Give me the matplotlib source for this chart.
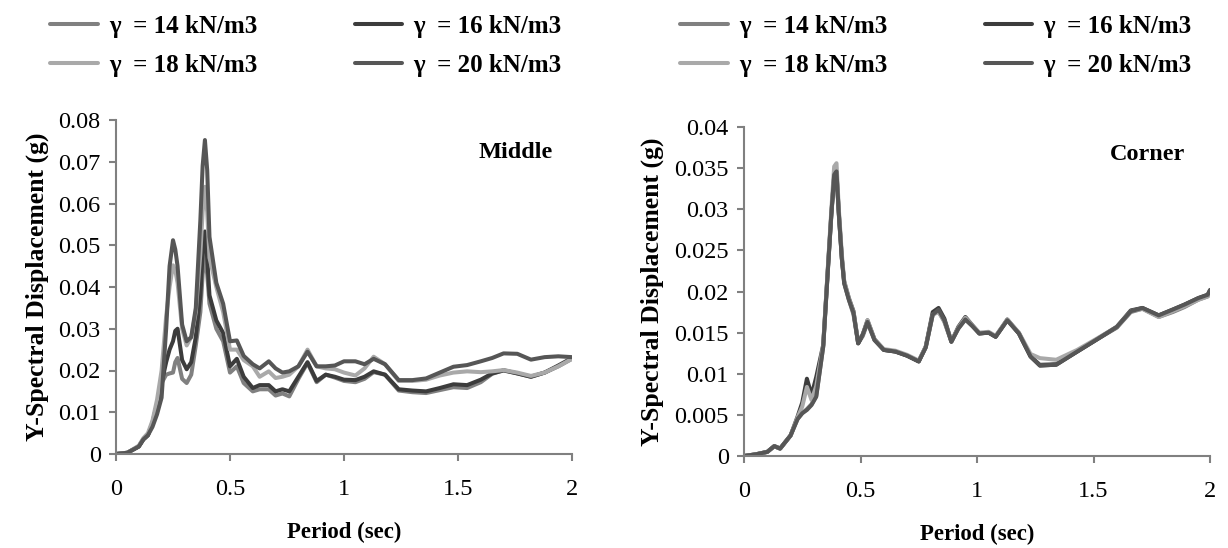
import matplotlib
matplotlib.use("Agg")
import matplotlib.pyplot as plt

# spectral displacement vs period, middle and corner points, four unit weights
labels = ["γ  = 14 kN/m3", "γ  = 16 kN/m3", "γ  = 18 kN/m3", "γ  = 20 kN/m3"]
colors = ["#808080", "#3c3c3c", "#a9a9a9", "#565656"]

period_mid = [0, 0.05, 0.1, 0.12, 0.14, 0.16, 0.18, 0.2, 0.22, 0.235,
              0.25, 0.26, 0.27, 0.29, 0.31, 0.33, 0.35, 0.37, 0.38, 0.39,
              0.40, 0.41, 0.44, 0.47, 0.5, 0.53, 0.56, 0.6, 0.63, 0.67,
              0.7, 0.73, 0.76, 0.8, 0.84, 0.88, 0.92, 0.96, 1.0, 1.05,
              1.09, 1.13, 1.18, 1.24, 1.3, 1.36, 1.42, 1.48, 1.54, 1.6,
              1.65, 1.7, 1.76, 1.82, 1.88, 1.94, 2.0]
mid_14 = [0, 0.0003, 0.0018, 0.0035, 0.0045, 0.0075, 0.012, 0.017, 0.019, 0.0193,
          0.0195, 0.022, 0.023, 0.018, 0.017, 0.019, 0.026, 0.034, 0.043, 0.048,
          0.043, 0.036, 0.030, 0.027, 0.0195, 0.021, 0.017, 0.015, 0.0155, 0.0155,
          0.014, 0.0145, 0.0138, 0.018, 0.0218, 0.0172, 0.019, 0.0183, 0.0175, 0.0172,
          0.018, 0.0196, 0.019, 0.0152, 0.0148, 0.0146, 0.0153, 0.016, 0.0158, 0.0172,
          0.0192, 0.0201, 0.0193, 0.0185, 0.0195, 0.021, 0.0228]
mid_16 = [0, 0.0003, 0.0018, 0.0035, 0.0045, 0.0075, 0.012, 0.017, 0.022, 0.025,
          0.027, 0.0295, 0.030, 0.0225, 0.0203, 0.022, 0.028, 0.038, 0.048, 0.0533,
          0.047, 0.038, 0.032, 0.029, 0.021, 0.0228, 0.0185, 0.0158, 0.0165, 0.0165,
          0.015, 0.0155, 0.015, 0.0185, 0.022, 0.0175, 0.019, 0.0185, 0.0178, 0.0177,
          0.0185, 0.0198, 0.019, 0.0155, 0.0152, 0.015, 0.0158, 0.0167, 0.0165, 0.0178,
          0.0193, 0.020, 0.0193, 0.0185, 0.0195, 0.0212, 0.023]
mid_18 = [0, 0.0003, 0.002, 0.0038, 0.005, 0.008, 0.013, 0.02, 0.033, 0.040,
          0.0452, 0.044, 0.041, 0.030, 0.026, 0.028, 0.034, 0.048, 0.058, 0.064,
          0.058, 0.047, 0.040, 0.034, 0.025, 0.025, 0.0225, 0.021, 0.0185, 0.0198,
          0.0182, 0.0185, 0.019, 0.021, 0.025, 0.021, 0.0205, 0.0203, 0.0195, 0.0188,
          0.0205, 0.0233, 0.0215, 0.0175, 0.0175, 0.0178, 0.0188, 0.0195, 0.0198, 0.0196,
          0.0198, 0.0201, 0.0195, 0.0187, 0.0195, 0.021, 0.0228]
mid_20 = [0, 0.0003, 0.0018, 0.0035, 0.0045, 0.0065, 0.0095, 0.0135, 0.030, 0.045,
          0.0512, 0.049, 0.045, 0.031, 0.027, 0.028, 0.035, 0.056, 0.069, 0.0752,
          0.068, 0.052, 0.041, 0.036, 0.027, 0.0272, 0.0235, 0.0215, 0.0205, 0.0222,
          0.0205, 0.0195, 0.0198, 0.021, 0.0245, 0.021, 0.021, 0.0212, 0.0222, 0.0222,
          0.0215, 0.0228, 0.0215, 0.0177, 0.0177, 0.0181, 0.0195, 0.0209, 0.0213, 0.0222,
          0.023, 0.0241, 0.024, 0.0226, 0.0232, 0.0234, 0.0232]

period_cor = [0, 0.05, 0.1, 0.13, 0.155, 0.2, 0.23, 0.25, 0.27, 0.29,
              0.31, 0.34, 0.36, 0.375, 0.387, 0.397, 0.407, 0.42, 0.43, 0.45,
              0.47, 0.49, 0.51, 0.53, 0.56, 0.6, 0.65, 0.7, 0.75, 0.78,
              0.81, 0.835, 0.86, 0.89, 0.92, 0.95, 0.98, 1.01, 1.05, 1.08,
              1.13, 1.18, 1.23, 1.27, 1.34, 1.43, 1.51, 1.6, 1.66, 1.71,
              1.78, 1.84, 1.89, 1.95, 1.99, 2.0]
cor_14 = [0, 0.0002, 0.0005, 0.0012, 0.0009, 0.0025, 0.0045, 0.0052, 0.0057, 0.0063,
          0.0073, 0.0133, 0.0226, 0.0293, 0.034, 0.0344, 0.0293, 0.024, 0.021, 0.019,
          0.0172, 0.0137, 0.0146, 0.0162, 0.0141, 0.0129, 0.0127, 0.0122, 0.0115, 0.0132,
          0.0172, 0.0176, 0.0163, 0.0139, 0.0155, 0.0166, 0.0158, 0.0149, 0.015, 0.0145,
          0.0165, 0.0149, 0.0121, 0.0111, 0.0112, 0.0127, 0.0141, 0.0156, 0.0175, 0.0179,
          0.0169, 0.0175, 0.0181, 0.019, 0.0194, 0.0198]
cor_16 = [0, 0.0002, 0.0005, 0.0012, 0.0009, 0.0025, 0.0048, 0.0065, 0.0094, 0.0074,
          0.0096, 0.0135, 0.0228, 0.0295, 0.034, 0.0344, 0.0295, 0.024, 0.0212, 0.0192,
          0.0176, 0.0137, 0.0148, 0.0165, 0.0142, 0.0129, 0.0127, 0.0122, 0.0115, 0.0133,
          0.0175, 0.018, 0.0167, 0.0139, 0.0157, 0.0169, 0.0159, 0.0149, 0.015, 0.0145,
          0.0166, 0.0149, 0.0121, 0.011, 0.0111, 0.0127, 0.0141, 0.0157, 0.0177, 0.018,
          0.0171, 0.0178, 0.0184, 0.0192, 0.0196, 0.0201]
cor_18 = [0, 0.0002, 0.0005, 0.0012, 0.0009, 0.0025, 0.0047, 0.006, 0.0084, 0.0068,
          0.0085, 0.0135, 0.023, 0.030, 0.0352, 0.0356, 0.030, 0.0245, 0.0213, 0.0192,
          0.0175, 0.0139, 0.0148, 0.0165, 0.0142, 0.013, 0.0128, 0.0123, 0.0116, 0.0133,
          0.0172, 0.0175, 0.0164, 0.014, 0.0156, 0.0168, 0.0159, 0.015, 0.0151, 0.0146,
          0.0166, 0.015, 0.0124, 0.0119, 0.0117, 0.0129, 0.0142, 0.0157, 0.0176, 0.0179,
          0.0169, 0.0176, 0.0182, 0.019, 0.0194, 0.0198]
cor_20 = [0, 0.0002, 0.0005, 0.0012, 0.0009, 0.0025, 0.0045, 0.0052, 0.0056, 0.0062,
          0.0072, 0.0133, 0.0226, 0.0295, 0.0342, 0.0346, 0.0295, 0.024, 0.021, 0.019,
          0.0174, 0.0137, 0.0148, 0.0163, 0.0141, 0.0129, 0.0127, 0.0122, 0.0115, 0.0132,
          0.0172, 0.0178, 0.0165, 0.0139, 0.0155, 0.0166, 0.0158, 0.0149, 0.015, 0.0145,
          0.0165, 0.0149, 0.0121, 0.011, 0.0111, 0.0127, 0.0141, 0.0157, 0.0176, 0.018,
          0.0171, 0.0178, 0.0184, 0.0192, 0.0196, 0.0202]

x_ticks = [0, 0.5, 1, 1.5, 2]
x_tick_labels = ["0", "0.5", "1", "1.5", "2"]
mid_y_ticks = [0, 0.01, 0.02, 0.03, 0.04, 0.05, 0.06, 0.07, 0.08]
mid_y_labels = ["0", "0.01", "0.02", "0.03", "0.04", "0.05", "0.06", "0.07", "0.08"]
cor_y_ticks = [0, 0.005, 0.01, 0.015, 0.02, 0.025, 0.03, 0.035, 0.04]
cor_y_labels = ["0", "0.005", "0.01", "0.015", "0.02", "0.025", "0.03", "0.035", "0.04"]

plt.rcParams["font.family"] = ["Liberation Serif", "DejaVu Serif"]

W, H = 1228, 548
fig = plt.figure(figsize=(W / 100, H / 100), dpi=100)

axis_grey = "#808080"


def setup_panel(ax, yticks, ylabels, ymax, tag, tag_xy):
    ax.set_xlim(0, 2)
    ax.set_ylim(0, ymax)
    ax.set_xticks(x_ticks)
    ax.set_xticklabels(x_tick_labels)
    ax.set_yticks(yticks)
    ax.set_yticklabels(ylabels)
    for side in ["top", "right"]:
        ax.spines[side].set_visible(False)
    for side in ["left", "bottom"]:
        ax.spines[side].set_color(axis_grey)
        ax.spines[side].set_linewidth(1.5)
    ax.tick_params(direction="out", length=5, width=1.5, color=axis_grey,
                   labelsize=17.5, pad=6)
    ax.tick_params(axis="x", pad=13)
    ax.set_xlabel("Period (sec)", fontsize=16.5, fontweight="bold", labelpad=16)
    ax.set_ylabel("Y-Spectral Displacement (g)", fontsize=18.5, fontweight="bold", labelpad=7)
    ax.text(tag_xy[0], tag_xy[1], tag, transform=ax.transAxes, ha="right", va="center",
            fontsize=17.5, fontweight="bold")


def draw_panel(ax, period, series):
    lines = []
    for vals, lab, col in zip(series, labels, colors):
        ln, = ax.plot(period, vals, color=col, lw=2.9, label=lab,
                      solid_joinstyle="round", solid_capstyle="round")
        lines.append(ln)
    return lines


ax1 = fig.add_axes([116 / W, 1 - 454 / H, 456 / W, 334 / H])
h1 = draw_panel(ax1, period_mid, [mid_14, mid_16, mid_18, mid_20])
setup_panel(ax1, mid_y_ticks, mid_y_labels, 0.08, "Middle", (0.958, 0.904))

ax2 = fig.add_axes([744 / W, 1 - 456 / H, 466 / W, 329 / H])
h2 = draw_panel(ax2, period_cor, [cor_14, cor_16, cor_18, cor_20])
setup_panel(ax2, cor_y_ticks, cor_y_labels, 0.04, "Corner", (0.946, 0.915))

# legends above each panel; rows read 14,16 then 18,20
for handles, x0 in [(h1, 50 / W), (h2, 680 / W)]:
    order = [handles[0], handles[2], handles[1], handles[3]]
    fig.legend(order, [h.get_label() for h in order], ncol=2,
               loc="upper left", bbox_to_anchor=(x0, 1 - 15 / H), frameon=False,
               borderpad=0, borderaxespad=0,
               prop={"weight": "bold", "size": 18}, handlelength=1.9,
               columnspacing=3.9, labelspacing=0.63, handletextpad=0.45)

fig.savefig("out.png", dpi=100)
